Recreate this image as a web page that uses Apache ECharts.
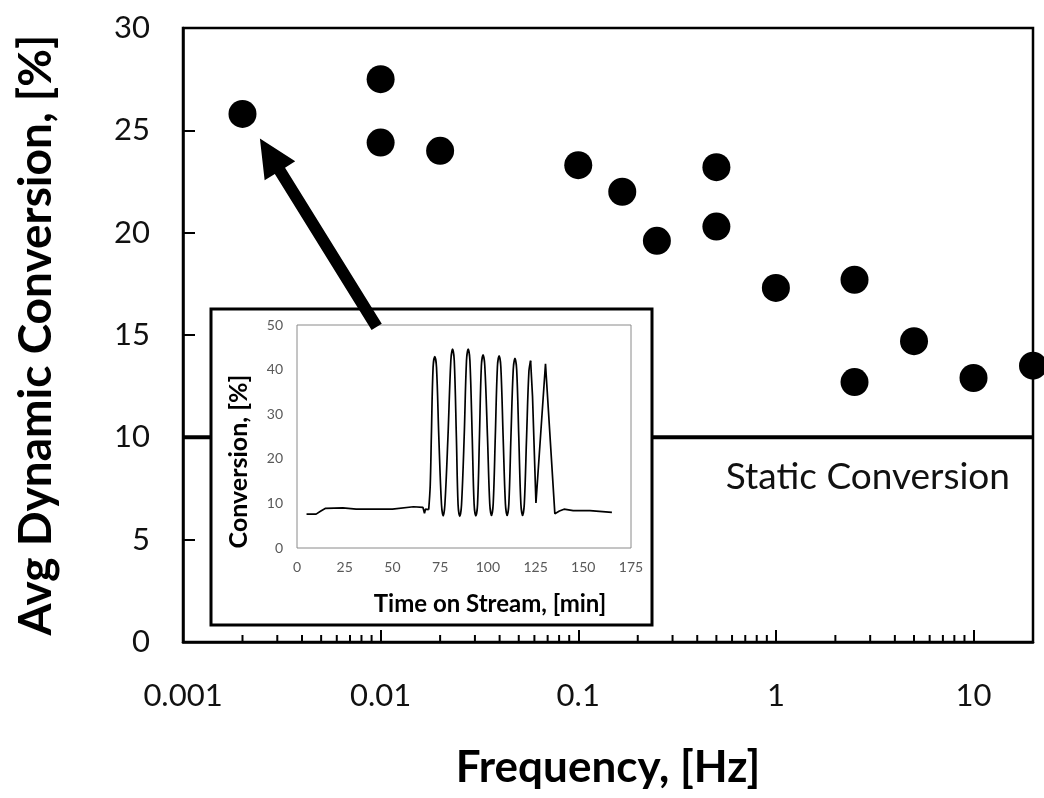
<!DOCTYPE html>
<html><head><meta charset="utf-8">
<script src="https://cdn.jsdelivr.net/npm/echarts@6/dist/echarts.min.js"></script>
<style>html,body{margin:0;padding:0;background:#fff}#c{width:1044px;height:798px}</style>
</head><body><div id="c"></div>
<script>
// ---- main chart data ----
const frequencyHz = [0.002, 0.01, 0.01, 0.02, 0.1, 0.167, 0.25, 0.5, 0.5, 1, 2.5, 2.5, 5, 10, 20];
const avgDynamicConversion = [25.8, 27.5, 24.4, 24.0, 23.3, 22.0, 19.6, 23.2, 20.3, 17.3, 17.7, 12.7, 14.7, 12.9, 13.5];
const staticConversion = 10;
const xMin = 0.001, xMax = 20;
const yMin = 0, yMax = 30, yStep = 5;
const minorTickValues = [0.002,0.003,0.004,0.005,0.006,0.007,0.008,0.009,
  0.02,0.03,0.04,0.05,0.06,0.07,0.08,0.09,
  0.2,0.3,0.4,0.5,0.6,0.7,0.8,0.9,
  2,3,4,5,6,7,8,9];
// arrow annotation (data coordinates): from inset towards the 0.002 Hz point
const arrowTail = [0.00955, 15.4];
const arrowTip = [0.00245, 24.6];

// ---- inset data (Time on Stream, min / Conversion, %) ----
const insetPreTime = [5, 10, 12.5, 15, 24, 31, 50, 61, 66, 66.8, 67.3, 69];
const insetPreConv = [7.6, 7.6, 8.3, 8.9, 9.0, 8.7, 8.7, 9.25, 9.1, 7.8, 8.7, 8.6];
const insetOscTime = [69, 69.8, 70.4, 71.3, 72.2, 73.1, 74.3, 75.7, 76.6, 77.5,
  79.1, 80.6, 81.5, 82.4, 83.5, 84.4, 85.3, 86.2,
  87.6, 88.8, 89.7, 90.6, 91.8, 92.8, 93.7, 94.6,
  95.6, 96.6, 97.5, 98.4, 99.8, 101.0, 101.9, 102.8,
  103.9, 105.0, 105.9, 106.8, 108.0, 109.2, 110.1, 111.0,
  112.1, 113.3, 114.2, 115.1, 116.2, 117.3, 118.2, 119.1,
  120.3, 121.5, 122.4];
const insetOscConv = [8.6, 14, 25, 40.5, 42.9, 40.5, 25, 9.8, 7.2, 9.8,
  25, 42.0, 44.6, 42.0, 25, 9.7, 7.1, 9.7,
  25, 42.0, 44.6, 42.0, 25, 9.8, 7.2, 9.8,
  25, 40.8, 43.3, 40.8, 25, 9.9, 7.3, 9.9,
  25, 40.6, 43.1, 40.6, 25, 9.9, 7.3, 9.9,
  25, 40.0, 42.5, 40.0, 25, 9.9, 7.3, 9.9,
  25, 39.5, 42.0];
const insetPostTime = [122.4, 123.4, 125.2, 130.2, 135.1, 137.5, 139.9, 144.7, 153.5, 165];
const insetPostConv = [42.0, 34, 10.1, 41.3, 7.7, 8.3, 8.7, 8.4, 8.4, 8.0];

const zip = (a, b) => a.map((v, i) => [v, b[i]]);
const FONT = 'Lato';

const chart = echarts.init(document.getElementById('c'));
const option = {
  animation: false,
  backgroundColor: '#fff',
  textStyle: { fontFamily: FONT },
  grid: [
    { left: 183, top: 28, right: 11, bottom: 156, show: true, borderColor: '#000', borderWidth: 2.5, z: 0 },
    { left: 297, top: 325, width: 334, height: 223, show: true, borderColor: '#8a8a8a', borderWidth: 1, z: 6 }
  ],
  xAxis: [
    {
      type: 'log', gridIndex: 0, min: xMin, max: xMax, logBase: 10,
      axisLine: { lineStyle: { color: '#000', width: 2.5 } },
      axisTick: { inside: true, length: 12, lineStyle: { color: '#000', width: 2 } },
      axisLabel: { fontSize: 31, color: '#111', margin: 38, showMaxLabel: false,
        formatter: v => String(+(+v).toPrecision(3)) },
      splitLine: { show: false },
      name: 'Frequency, [Hz]', nameLocation: 'middle', nameGap: 104,
      nameTextStyle: { fontSize: 44, fontWeight: 'bold', color: '#000', fontFamily: FONT }
    },
    {
      type: 'value', gridIndex: 1, min: 0, max: 175, interval: 25, z: 6,
      axisLine: { show: false }, axisTick: { show: false }, splitLine: { show: false },
      axisLabel: { fontSize: 14, color: '#595959', margin: 12 },
      name: 'Time on Stream, [min]', nameLocation: 'middle', nameGap: 44,
      nameTextStyle: { fontSize: 24, fontWeight: 'bold', color: '#000', fontFamily: FONT, padding: [0, 0, 0, 52] }
    }
  ],
  yAxis: [
    {
      type: 'value', gridIndex: 0, min: yMin, max: yMax, interval: yStep,
      axisLine: { lineStyle: { color: '#000', width: 2.5 } },
      axisTick: { inside: true, length: 12, lineStyle: { color: '#000', width: 2 } },
      axisLabel: { fontSize: 31, color: '#111', margin: 33 },
      splitLine: { show: false },
      name: 'Avg Dynamic Conversion, [%]', nameLocation: 'middle', nameGap: 124,
      nameTextStyle: { fontSize: 46, fontWeight: 'bold', color: '#000', fontFamily: FONT, padding: [0, 0, 0, 0] }
    },
    {
      type: 'value', gridIndex: 1, min: 0, max: 50, interval: 10, z: 6,
      axisLine: { show: false }, axisTick: { show: false }, splitLine: { show: false },
      axisLabel: { fontSize: 14, color: '#595959', margin: 14 },
      name: 'Conversion, [%]', nameLocation: 'middle', nameGap: 46,
      nameTextStyle: { fontSize: 25, fontWeight: 'bold', color: '#000', fontFamily: FONT, padding: [0, 50, 0, 0] }
    }
  ],
  series: [
    {
      type: 'line', xAxisIndex: 0, yAxisIndex: 0, z: 2,
      data: [[xMin, staticConversion], [xMax, staticConversion]],
      symbol: 'none', lineStyle: { color: '#000', width: 4 }, silent: true
    },
    {
      type: 'custom', xAxisIndex: 0, yAxisIndex: 0, z: 3, silent: true, clip: false,
      data: minorTickValues.map(v => [v, yMin]),
      renderItem: (params, api) => {
        const p = api.coord([api.value(0), api.value(1)]);
        return { type: 'line', shape: { x1: p[0], y1: p[1], x2: p[0], y2: p[1] - 7 },
          style: { stroke: '#000', lineWidth: 2 } };
      }
    },
    {
      type: 'scatter', xAxisIndex: 0, yAxisIndex: 0, z: 3, clip: false,
      data: zip(frequencyHz, avgDynamicConversion),
      symbol: 'circle', symbolSize: 28, itemStyle: { color: '#000', opacity: 1 }
    },
    {
      type: 'line', xAxisIndex: 1, yAxisIndex: 1, z: 8,
      data: zip(insetPreTime, insetPreConv), symbol: 'none',
      lineStyle: { color: '#000', width: 1.7 }
    },
    {
      type: 'line', xAxisIndex: 1, yAxisIndex: 1, z: 8, smooth: 0.35,
      data: zip(insetOscTime, insetOscConv), symbol: 'none',
      lineStyle: { color: '#000', width: 1.7 }
    },
    {
      type: 'line', xAxisIndex: 1, yAxisIndex: 1, z: 8,
      data: zip(insetPostTime, insetPostConv), symbol: 'none',
      lineStyle: { color: '#000', width: 1.7 }
    }
  ]
};
chart.setOption(option);

// inset frame, annotation text and arrow
const px = d => chart.convertToPixel({ xAxisIndex: 0, yAxisIndex: 0 }, d);
const T = px(arrowTip), S = px(arrowTail);
const dx = T[0] - S[0], dy = T[1] - S[1], L = Math.hypot(dx, dy);
const ux = dx / L, uy = dy / L, nx = -uy, ny = ux;
const headLen = 38, headHalf = 18, shaftHalf = 6;
const Bx = T[0] - ux * headLen, By = T[1] - uy * headLen;
const arrowPts = [
  [S[0] + nx * shaftHalf, S[1] + ny * shaftHalf],
  [Bx + nx * shaftHalf, By + ny * shaftHalf],
  [Bx + nx * headHalf, By + ny * headHalf],
  [T[0], T[1]],
  [Bx - nx * headHalf, By - ny * headHalf],
  [Bx - nx * shaftHalf, By - ny * shaftHalf],
  [S[0] - nx * shaftHalf, S[1] - ny * shaftHalf]
];
const staticPt = px([xMax, staticConversion]);

chart.setOption({
  graphic: [
    { type: 'rect', z: 5, shape: { x: 211, y: 309, width: 441, height: 316 },
      style: { fill: '#fff', stroke: '#000', lineWidth: 3 } },
    { type: 'text', z: 4, x: staticPt[0] - 23, y: staticPt[1] + 40,
      style: { text: 'Static Conversion', font: '37px Lato', fill: '#111', align: 'right', verticalAlign: 'middle' } },
    { type: 'polygon', z: 20, shape: { points: arrowPts }, style: { fill: '#000' } }
  ]
});
</script>
</body></html>
